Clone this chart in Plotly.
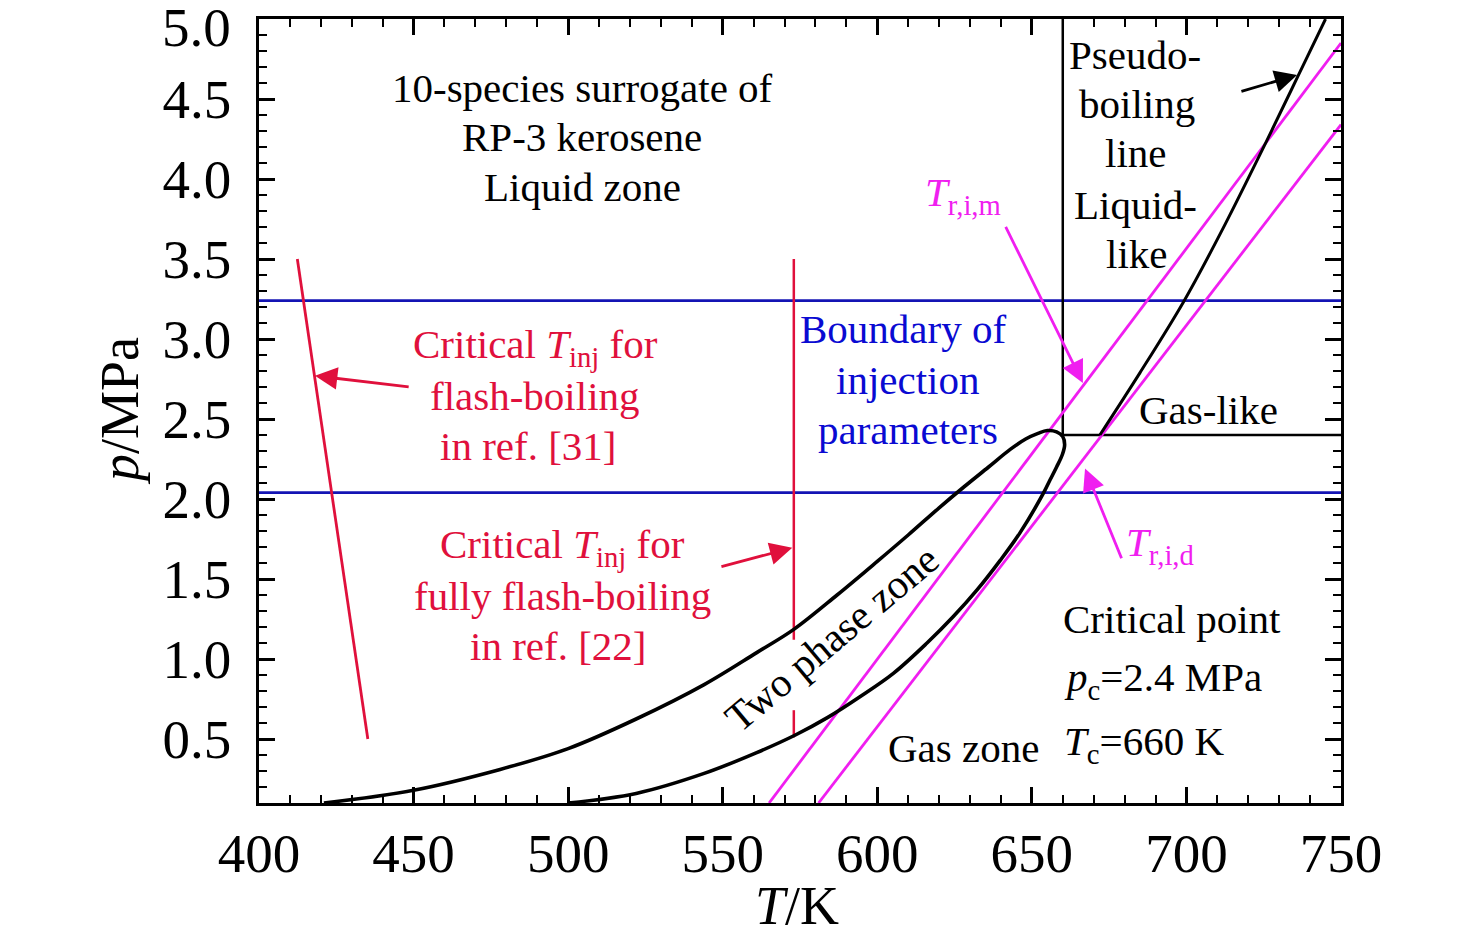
import plotly.graph_objects as go

# saturation dome: bubble branch (left, rising) then dew branch back down from the nose
bubble_T = [421, 450, 478, 500, 522, 544, 561, 573, 587, 600, 610, 620, 628, 636, 643, 648, 652, 655, 658, 660]
bubble_p = [0.10, 0.18, 0.31, 0.44, 0.625, 0.84, 1.04, 1.185, 1.40, 1.61, 1.775, 1.945, 2.075, 2.20, 2.31, 2.375, 2.41, 2.428, 2.42, 2.39]
dew_T = [660.6, 659.9, 658, 655.9, 653.7, 646.2, 639.7, 632.2, 624.6, 616, 605.2, 594.4, 584, 573.5, 561, 544, 522, 500]
dew_p = [2.34, 2.28, 2.20, 2.12, 2.035, 1.79, 1.615, 1.43, 1.265, 1.098, 0.91, 0.764, 0.635, 0.525, 0.415, 0.285, 0.16, 0.10]

# pseudo-boiling line
pb_T = [672, 685, 699, 711, 726, 736, 745]
pb_p = [2.40, 2.79, 3.23, 3.66, 4.24, 4.64, 5.00]

# reduced-temperature lines
trim_T = [565, 750]
trim_p = [0.10, 4.85]
trid_T = [581, 750]
trid_p = [0.10, 4.34]

# boundary of injection parameters
p_bound = [2.04, 3.24]

# critical point
Tc, pc = 660, 2.4

# critical T_inj from refs
ref31_T = [412.4, 435.2]
ref31_p = [3.50, 0.50]
ref22_T = 573
ref22_upper = [3.50, 1.12]
ref22_lower = [0.68, 0.51]

x_ticks = [400, 450, 500, 550, 600, 650, 700, 750]
y_ticks = [0.5, 1.0, 1.5, 2.0, 2.5, 3.0, 3.5, 4.0, 4.5, 5.0]
# top label drawn separately so it is not clipped at the page edge
y_ticktext = ['0.5', '1.0', '1.5', '2.0', '2.5', '3.0', '3.5', '4.0', '4.5', '']

FONT = "Liberation Serif, Times New Roman, serif"
RED = '#E0103C'
MAG = '#F01EF0'
BLUE = '#1414B4'
TXT_BLUE = '#0A0AD2'

fig = go.Figure()

for pb in p_bound:
    fig.add_trace(go.Scatter(x=[400, 750], y=[pb, pb], mode='lines',
                             line=dict(color=BLUE, width=2.6), hoverinfo='skip'))

fig.add_trace(go.Scatter(x=[Tc, Tc], y=[pc, 5.0], mode='lines',
                         line=dict(color='black', width=2.5), hoverinfo='skip'))
fig.add_trace(go.Scatter(x=[Tc, 750], y=[pc, pc], mode='lines',
                         line=dict(color='black', width=2.5), hoverinfo='skip'))

fig.add_trace(go.Scatter(x=ref31_T, y=ref31_p, mode='lines',
                         line=dict(color=RED, width=2.8), hoverinfo='skip'))
fig.add_trace(go.Scatter(x=[ref22_T, ref22_T], y=ref22_upper, mode='lines',
                         line=dict(color=RED, width=2.5), hoverinfo='skip'))
fig.add_trace(go.Scatter(x=[ref22_T, ref22_T], y=ref22_lower, mode='lines',
                         line=dict(color=RED, width=2.5), hoverinfo='skip'))

fig.add_trace(go.Scatter(x=trim_T, y=trim_p, mode='lines',
                         line=dict(color=MAG, width=2.8), hoverinfo='skip'))
fig.add_trace(go.Scatter(x=trid_T, y=trid_p, mode='lines',
                         line=dict(color=MAG, width=2.8), hoverinfo='skip'))

fig.add_trace(go.Scatter(x=bubble_T + dew_T, y=bubble_p + dew_p, mode='lines',
                         line=dict(color='black', width=3.6, shape='spline', smoothing=1.0),
                         hoverinfo='skip'))
fig.add_trace(go.Scatter(x=pb_T, y=pb_p, mode='lines',
                         line=dict(color='black', width=3.0, shape='spline', smoothing=1.0),
                         hoverinfo='skip'))


def label(x, y, text, color='black', size=41, xanchor='center', angle=0):
    fig.add_annotation(x=x, y=y, text=text, showarrow=False, xanchor=xanchor, yanchor='middle',
                       textangle=angle, font=dict(family=FONT, size=size, color=color))


def arrow(x0, y0, x1, y1, color):
    # tail (x0, y0) -> tip (x1, y1)
    fig.add_annotation(x=x1, y=y1, ax=x0, ay=y0, axref='x', ayref='y', xref='x', yref='y',
                       text='', showarrow=True, arrowhead=2, arrowsize=1.6, arrowwidth=2.8,
                       arrowcolor=color)


label(504.5, 4.57, "10-species surrogate of")
label(504.5, 4.26, "RP-3 kerosene")
label(504.5, 3.95, "Liquid zone")

label(489.3, 2.95, "Critical <i>T</i><sub>inj</sub> for", RED)
label(489.3, 2.645, "flash-boiling", RED)
label(487.0, 2.33, "in ref. [31]", RED)

label(498.3, 1.70, "Critical <i>T</i><sub>inj</sub> for", RED)
label(498.3, 1.395, "fully flash-boiling", RED)
label(496.7, 1.08, "in ref. [22]", RED)

label(608.3, 3.06, "Boundary of", TXT_BLUE)
label(609.9, 2.745, "injection", TXT_BLUE)
label(609.9, 2.43, "parameters", TXT_BLUE)

label(683.4, 4.775, "Pseudo-")
label(684.0, 4.47, "boiling")
label(683.4, 4.16, "line")
label(683.4, 3.84, "Liquid-")
label(684.0, 3.53, "like")

label(707.0, 2.556, "Gas-like")
label(695.3, 1.25, "Critical point")
label(659.8, 0.87, "<i>p</i><sub>c</sub>=2.4 MPa", xanchor='left')
label(659.8, 0.47, "<i>T</i><sub>c</sub>=660 K", xanchor='left')
label(628.0, 0.445, "Gas zone")
label(585.4, 1.13, "Two phase zone", angle=-40)

label(627.7, 3.90, "<i>T</i><sub>r,i,m</sub>", MAG)
label(691.5, 1.71, "<i>T</i><sub>r,i,d</sub>", MAG)

arrow(448.9, 2.70, 418.1, 2.77, RED)
arrow(549.1, 1.575, 572.5, 1.695, RED)
arrow(641.3, 3.71, 666.5, 2.725, MAG)
arrow(679.2, 1.62, 667.2, 2.19, MAG)
arrow(717.3, 4.545, 735.8, 4.65, 'black')

# top y tick label, nudged down a little so it stays on the page
fig.add_annotation(x=0, y=1, xref='paper', yref='paper', text="5.0", showarrow=False,
                   xanchor='right', yanchor='middle', xshift=-26, yshift=-8,
                   font=dict(family=FONT, size=55, color='black'))

# axis titles
fig.add_annotation(x=-0.1285, y=0.5, xref='paper', yref='paper', text="<i>p</i>/MPa",
                   xanchor='center', yanchor='middle',
                   showarrow=False, textangle=-90, font=dict(family=FONT, size=54, color='black'))
fig.add_annotation(x=0.497, y=-0.131, xref='paper', yref='paper', text="<i>T</i>/K",
                   xanchor='center', yanchor='middle',
                   showarrow=False, font=dict(family=FONT, size=54, color='black'))

axis_common = dict(
    showline=True, linecolor='black', linewidth=2.5, mirror='allticks',
    ticks='inside', ticklen=16, tickwidth=2.5, tickcolor='black',
    showgrid=False, zeroline=False, ticklabeloverflow='allow', automargin=False,
    tickfont=dict(family=FONT, size=55, color='black'),
)

# page body adds an 8px offset, so the figure is sized to end at the window edge
fig.update_layout(
    width=1468, height=931,
    margin=dict(l=251, r=135, t=11, b=136),
    paper_bgcolor='white', plot_bgcolor='white',
    showlegend=False,
    xaxis=dict(range=[400, 750], tickvals=x_ticks,
               minor=dict(dtick=10, ticks='inside', ticklen=8, tickwidth=2.2, tickcolor='black'),
               ticklabelstandoff=0, **axis_common),
    yaxis=dict(range=[0.1, 5.0001], tickvals=y_ticks, ticktext=y_ticktext,
               minor=dict(dtick=0.1, tick0=0, ticks='inside', ticklen=8, tickwidth=2.2, tickcolor='black'),
               ticklabelstandoff=14, **axis_common),
)

fig.write_html("out.html")
